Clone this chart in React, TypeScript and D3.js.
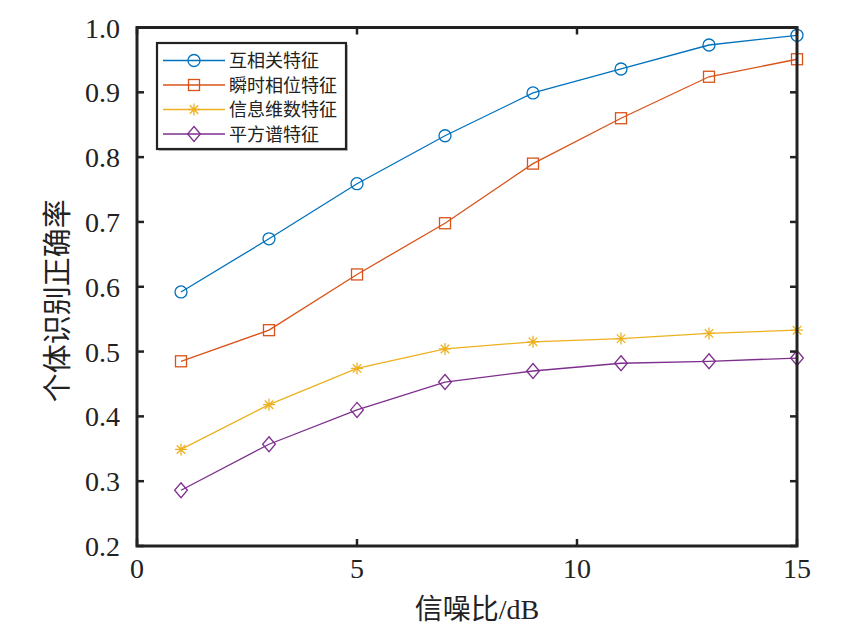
import React from "react";
import * as d3 from "d3";

const snr = [1, 3, 5, 7, 9, 11, 13, 15];
const crossCorr = [0.592, 0.674, 0.759, 0.833, 0.899, 0.936, 0.973, 0.988];
const instPhase = [0.485, 0.533, 0.619, 0.698, 0.79, 0.86, 0.924, 0.951];
const infoDim = [0.349, 0.418, 0.474, 0.504, 0.515, 0.52, 0.528, 0.533];
const squareSpec = [0.286, 0.357, 0.41, 0.453, 0.47, 0.482, 0.485, 0.49];
const seriesNames = ["互相关特征", "瞬时相位特征", "信息维数特征", "平方谱特征"];
const xTicks = [0, 5, 10, 15];
const yTicks = [0.2, 0.3, 0.4, 0.5, 0.6, 0.7, 0.8, 0.9, 1.0];

const W = 851;
const H = 643;
const M = { left: 137, right: 797, top: 27.5, bottom: 546 };
const colors = ["#0072BD", "#D95319", "#EDB120", "#7E2F8E"];
const markers = ["circle", "square", "star", "diamond"];
const FONT = "'Liberation Serif', 'Times New Roman', 'Noto Sans CJK SC', serif";

function Marker({ type, x, y, color }: { type: string; x: number; y: number; color: string }) {
  const sw = 1.3;
  if (type === "circle") return <circle cx={x} cy={y} r={6} fill="none" stroke={color} strokeWidth={sw} />;
  if (type === "square")
    return <rect x={x - 5.5} y={y - 5.5} width={11} height={11} fill="none" stroke={color} strokeWidth={sw} />;
  if (type === "diamond") {
    const r = 7.5;
    return (
      <path
        d={`M${x},${y - r}L${x + r * 0.85},${y}L${x},${y + r}L${x - r * 0.85},${y}Z`}
        fill="none"
        stroke={color}
        strokeWidth={sw}
      />
    );
  }
  const r = 6;
  const d = [0, 45, 90, 135]
    .map((a) => {
      const rad = (a * Math.PI) / 180;
      const dx = Math.cos(rad) * r;
      const dy = Math.sin(rad) * r;
      return `M${x - dx},${y - dy}L${x + dx},${y + dy}`;
    })
    .join("");
  return <path d={d} stroke={color} strokeWidth={sw} fill="none" />;
}

export default function App() {
  const x = d3.scaleLinear().domain([0, 15]).range([M.left, M.right]);
  const y = d3.scaleLinear().domain([0.2, 1.0]).range([M.bottom, M.top]);
  const data = [crossCorr, instPhase, infoDim, squareSpec];
  const line = d3
    .line<number>()
    .x((_, i) => x(snr[i]))
    .y((v) => y(v));
  const tl = 7;

  return (
    <svg width={W} height={H} style={{ display: "block", position: "absolute", left: 0, top: 0, background: "#fff" }}>
      <rect x={0} y={0} width={W} height={H} fill="#fff" />
      {data.map((s, k) => (
        <g key={k}>
          <path d={line(s) || ""} fill="none" stroke={colors[k]} strokeWidth={1.3} />
          {s.map((v, i) => (
            <Marker key={i} type={markers[k]} x={x(snr[i])} y={y(v)} color={colors[k]} />
          ))}
        </g>
      ))}
      {/* ticks */}
      {xTicks.map((t) => (
        <g key={"x" + t}>
          <line x1={x(t)} x2={x(t)} y1={M.bottom} y2={M.bottom - tl} stroke="#222" strokeWidth={2.5} />
          <line x1={x(t)} x2={x(t)} y1={M.top} y2={M.top + tl} stroke="#222" strokeWidth={2.5} />
          <text x={x(t)} y={578} textAnchor="middle" fontFamily={FONT} fontSize={28} fill="#222">
            {t}
          </text>
        </g>
      ))}
      {yTicks.map((t) => (
        <g key={"y" + t}>
          <line x1={M.left} x2={M.left + tl} y1={y(t)} y2={y(t)} stroke="#222" strokeWidth={2.5} />
          <line x1={M.right} x2={M.right - tl} y1={y(t)} y2={y(t)} stroke="#222" strokeWidth={2.5} />
          <text x={120} y={y(t) + 10} textAnchor="end" fontFamily={FONT} fontSize={28} fill="#222">
            {t.toFixed(1)}
          </text>
        </g>
      ))}
      <rect
        x={M.left}
        y={M.top}
        width={M.right - M.left}
        height={M.bottom - M.top}
        fill="none"
        stroke="#222"
        strokeWidth={3}
      />
      {/* axis labels */}
      <text x={(M.left + M.right) / 2 + 10} y={619} textAnchor="middle" fontFamily={FONT} fontSize={28} fill="#222">
        信噪比/dB
      </text>
      <text
        transform={`translate(68,${(M.top + M.bottom) / 2 + 14}) rotate(-90)`}
        textAnchor="middle"
        fontFamily={FONT}
        fontSize={29}
        fill="#222"
      >
        个体识别正确率
      </text>
      {/* legend */}
      <g>
        <rect x={159} y={45} width={189} height={106} fill="#bbb" />
        <rect x={157} y={43} width={189} height={106} fill="#fff" stroke="#222" strokeWidth={2.2} />
        {seriesNames.map((n, k) => {
          const ly = 60.5 + k * 24.5;
          return (
            <g key={n}>
              <line x1={163} x2={225} y1={ly} y2={ly} stroke={colors[k]} strokeWidth={1.3} />
              <Marker type={markers[k]} x={194} y={ly} color={colors[k]} />
              <text x={229} y={ly + 6.5} fontFamily={FONT} fontSize={18} fill="#222">
                {n}
              </text>
            </g>
          );
        })}
      </g>
    </svg>
  );
}
